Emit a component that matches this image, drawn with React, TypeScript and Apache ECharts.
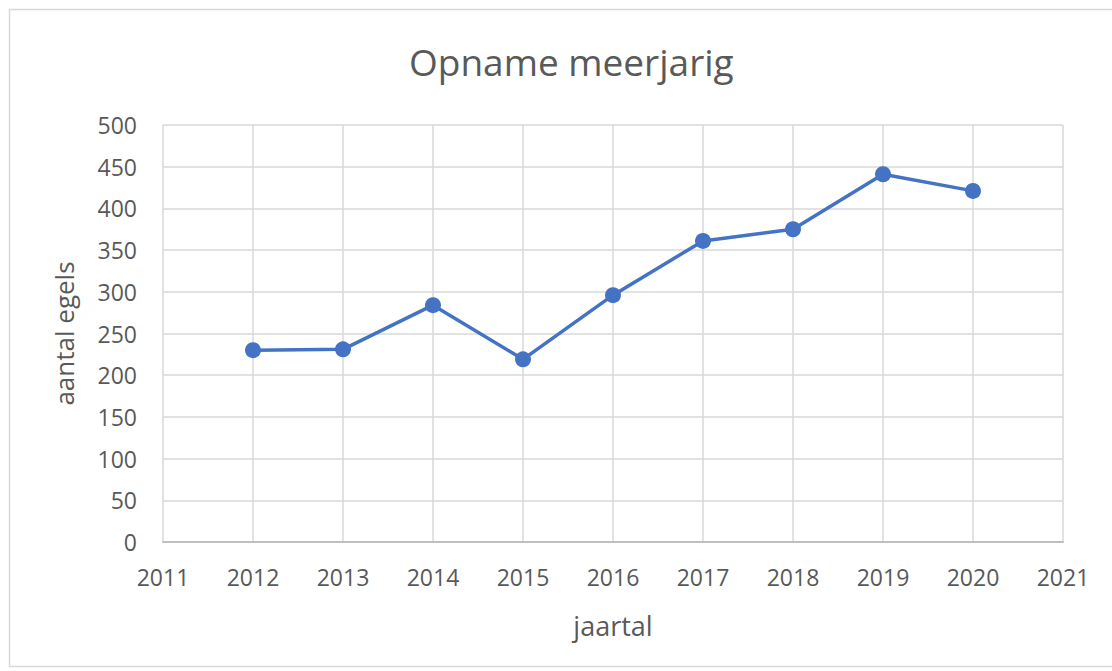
import React, { useEffect, useRef } from "react";
import * as echarts from "echarts";

const years = [2012, 2013, 2014, 2015, 2016, 2017, 2018, 2019, 2020];
const counts = [230, 231, 284, 219, 296, 361, 375, 441, 421];
const titleText = "Opname meerjarig";
const xTitle = "jaartal";
const yTitle = "aantal egels";

const FONT = "'Open Sans', sans-serif";
const TEXT = "#595959";

export default function App() {
  const ref = useRef<HTMLDivElement>(null);
  useEffect(() => {
    if (!ref.current) return;
    const chart = echarts.init(ref.current, null, { renderer: "svg" });
    chart.setOption({
      animation: false,
      backgroundColor: "#ffffff",
      title: {
        text: titleText,
        left: 404,
        top: 38,
        textStyle: { fontFamily: FONT, fontSize: 37, fontWeight: "normal", color: TEXT },
      },
      grid: { left: 163, right: 49, top: 125, bottom: 129 },
      xAxis: {
        type: "value",
        min: 2011,
        max: 2021,
        interval: 1,
        name: xTitle,
        nameLocation: "middle",
        nameGap: 70,
        nameTextStyle: { fontFamily: FONT, fontSize: 27, color: TEXT },
        axisLine: { show: true, lineStyle: { color: "#bfbfbf", width: 2 } },
        axisTick: { show: false },
        axisLabel: {
          fontFamily: FONT,
          fontSize: 23,
          color: TEXT,
          margin: 23,
          formatter: (v: number) => String(v),
        },
        splitLine: { show: true, lineStyle: { color: "#d9d9d9", width: 1.5 } },
      },
      yAxis: {
        type: "value",
        min: 0,
        max: 500,
        interval: 50,
        name: yTitle,
        nameLocation: "middle",
        nameGap: 86,
        nameRotate: 90,
        nameTextStyle: { fontFamily: FONT, fontSize: 26, color: TEXT },
        axisLine: { show: false },
        axisTick: { show: false },
        axisLabel: { fontFamily: FONT, fontSize: 23, color: TEXT, margin: 26 },
        splitLine: { show: true, lineStyle: { color: "#d9d9d9", width: 1.5 } },
      },
      series: [
        {
          type: "line",
          data: years.map((y, i) => [y, counts[i]]),
          symbol: "circle",
          symbolSize: 16,
          itemStyle: { color: "#4472C4" },
          lineStyle: { color: "#4472C4", width: 3.5 },
        },
      ],
      graphic: [
        {
          type: "rect",
          shape: { x: 9.5, y: 9.5, width: 1120, height: 657 },
          style: { fill: "none", stroke: "#d9d9d9", lineWidth: 1.5 },
          silent: true,
        },
      ],
    });
    return () => chart.dispose();
  }, []);
  return (
    <div
      ref={ref}
      style={{ position: "absolute", left: 0, top: 0, width: 1112, height: 671 }}
    />
  );
}
